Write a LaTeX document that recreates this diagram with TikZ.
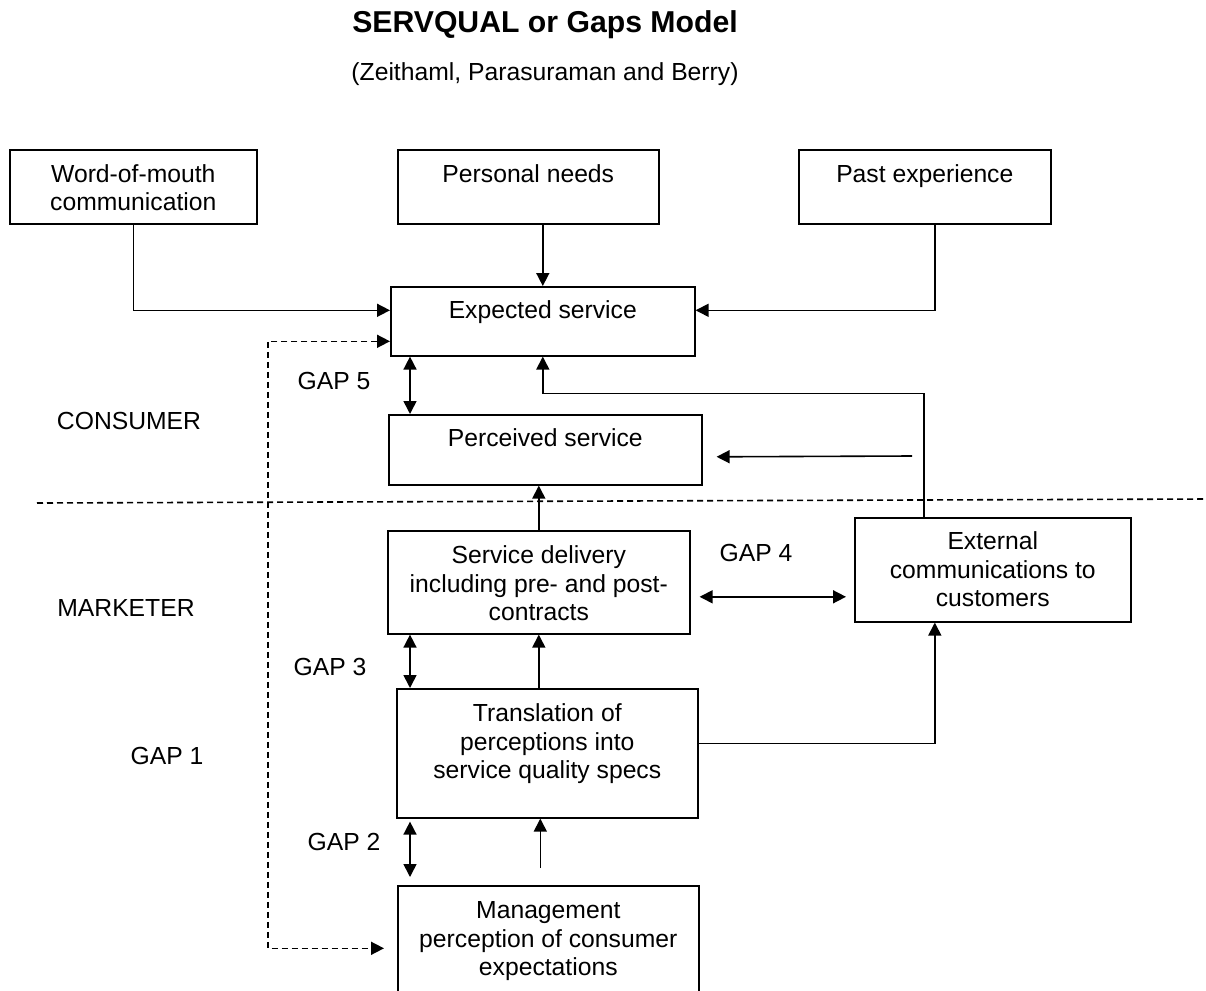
\documentclass[tikz,border=0pt]{standalone}
\usepackage{fontspec}
\setmainfont{Liberation Sans}
\usetikzlibrary{arrows.meta}

\begin{document}
\begin{tikzpicture}[x=1pt, y=-1pt, line width=1.6pt,
    >={Triangle[length=13pt,width=13pt]},
    every node/.style={align=center, font=\fontsize{24.7}{28.5}\selectfont},
    box/.style={draw, anchor=north west, inner sep=0pt},
    dashline/.style={dash pattern=on 6pt off 4pt}]
    \useasboundingbox (0,0) rectangle (1206,990);
    \clip (0,0) rectangle (1206,990);

    \node[anchor=base, font=\bfseries\fontsize{30.2}{36}\selectfont] (title) at (545,33) {SERVQUAL or Gaps Model};
    \node[anchor=base] (subtitle) at (545,80) {(Zeithaml, Parasuraman and Berry)};

    \node[box, minimum width=247pt, text height=61pt, text depth=13pt] (wom) at (9,149) {Word-of-mouth\\communication};
    \node[box, minimum width=261pt, text height=33pt, text depth=41pt] (needs) at (397,149) {Personal needs};
    \node[box, minimum width=252pt, text height=33pt, text depth=41pt] (past) at (798,149) {Past experience};
    \node[box, minimum width=304pt, text height=32pt, text depth=37pt] (expected) at (390,286) {Expected service};
    \node[box, minimum width=313pt, text height=32pt, text depth=38pt] (perceived) at (388,414) {Perceived service};
    \node[box, minimum width=302pt, text height=90pt, text depth=13pt] (delivery) at (387,530) {Service delivery\\including pre- and post-\\contracts};
    \node[box, minimum width=276pt, text height=89pt, text depth=15pt] (external) at (854,517) {External\\communications to\\customers};
    \node[box, minimum width=301pt, text height=90pt, text depth=39pt] (translation) at (396,688) {Translation of\\perceptions into\\service quality specs};
    \node[box, minimum width=301pt, text height=90pt, text depth=35pt] (mgmt) at (397,885) {Management\\perception of consumer\\expectations};

    \node (consumer) at (129,421) {CONSUMER};
    \node (marketer) at (126,608) {MARKETER};
    \node (gap1) at (167,756) {GAP 1};
    \node (gap2) at (344,842) {GAP 2};
    \node (gap3) at (330,667) {GAP 3};
    \node (gap4) at (756,553) {GAP 4};
    \node (gap5) at (334,381) {GAP 5};

    \draw[dashline] (37,503) -- (1210,499);

    \draw[->] (wom.south) |- ([yshift=11pt]expected.west);
    \draw[->] (needs.south -| expected.north) -- (expected.north);
    \draw[->] ([xshift=10pt]past.south) |- ([yshift=11pt]expected.east);
    \draw[dashline, <->] ([yshift=-20pt]expected.west) -| ([xshift=-129pt]mgmt.west) -- ([xshift=-13pt]mgmt.west);

    \draw[<->] ([xshift=20pt]expected.south west) -- ([xshift=20pt]expected.south west |- perceived.north);
    \draw[->] ([xshift=-69pt]external.north) |- ([yshift=-37pt]expected.south) -- (expected.south);
    \coordinate (fbstart) at (912,456);
    \draw[->] (fbstart) -- ([xshift=14pt,yshift=-7pt]perceived.east);
    \draw[->] (delivery.north) -- (delivery.north |- perceived.south);

    \draw[<->] ([xshift=9pt,yshift=-14.5pt]delivery.east) -- ([xshift=-8pt,yshift=-14.5pt]delivery.east -| external.west);
    \draw[<->] ([xshift=23pt]delivery.south west) -- ([xshift=23pt]delivery.south west |- translation.north);
    \draw[->] (delivery.south |- translation.north) -- (delivery.south);
    \draw[->] ([yshift=10pt]translation.east) -| ([xshift=-58pt]external.south);

    \draw[<->] ([xshift=14pt,yshift=-3pt]translation.south west) -- ([xshift=13pt,yshift=8pt]mgmt.north west);
    \draw[->] ([xshift=-8pt,yshift=17pt]mgmt.north) -- ([xshift=-8pt]mgmt.north |- translation.south);
\end{tikzpicture}
\end{document}
